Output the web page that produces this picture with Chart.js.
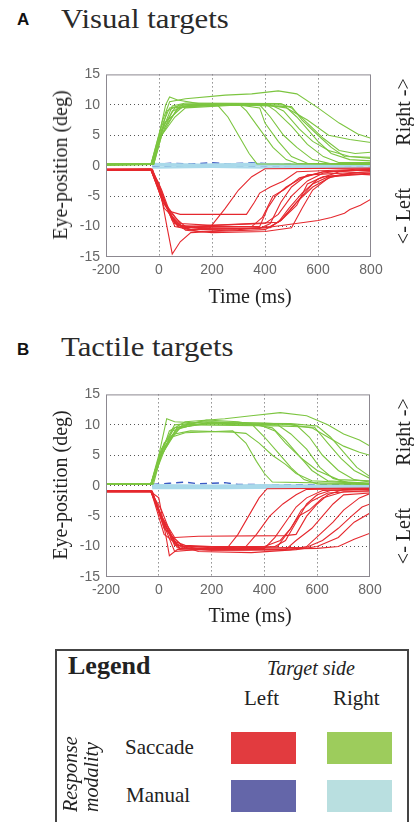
<!DOCTYPE html>
<html>
<head>
<meta charset="utf-8">
<script src="https://cdn.jsdelivr.net/npm/chart.js@4.4.0/dist/chart.umd.min.js"></script>
<style>
body{margin:0;width:414px;height:822px;overflow:hidden;background:#fff;position:relative;font-family:"Liberation Serif",serif;color:#222}
.t{position:absolute;white-space:nowrap;line-height:1}
.panel{position:absolute;left:17px;font:bold 17px "Liberation Sans",sans-serif;line-height:1;color:#111}
.head{position:absolute;left:61px;font-size:28px;line-height:1;white-space:nowrap;transform:scaleX(1.1);transform-origin:0 0;color:#2a2a2a}
.rot{position:absolute;white-space:nowrap;line-height:1;font-size:20px;transform:translate(-50%,-50%) rotate(-90deg)}
.ctr{position:absolute;white-space:nowrap;line-height:1;font-size:20px;transform:translate(-50%,-50%)}
.up{position:absolute;white-space:nowrap;line-height:1;font-size:20px;font-style:italic;transform-origin:0 0;transform:rotate(-90deg)}
.sw{position:absolute;width:65px;height:32px}
canvas{position:absolute;left:0}
#legend{position:absolute;left:55px;top:649px;width:354px;height:200px;border:2px solid #444;box-sizing:border-box}
</style>
</head>
<body>

<div class="panel" style="top:11px">A</div>
<div class="head" style="top:5px">Visual targets</div>
<canvas id="chartA" width="414" height="250" style="top:60px"></canvas>
<div class="rot" style="left:60px;top:165px">Eye-position (deg)</div>
<div class="ctr" style="left:250px;top:296px">Time (ms)</div>
<div class="rot" style="left:403px;top:112px">Right -&gt;</div>
<div class="rot" style="left:403px;top:216px">&lt;- Left</div>

<div class="panel" style="top:341px">B</div>
<div class="head" style="top:333px">Tactile targets</div>
<canvas id="chartB" width="414" height="250" style="top:380px"></canvas>
<div class="rot" style="left:60px;top:485px">Eye-position (deg)</div>
<div class="ctr" style="left:250px;top:615px">Time (ms)</div>
<div class="rot" style="left:403px;top:432px">Right -&gt;</div>
<div class="rot" style="left:403px;top:536px">&lt;- Left</div>

<div id="legend"></div>
<div class="t" style="left:68px;top:653px;font-size:26px;font-weight:bold">Legend</div>
<div class="t" style="left:267px;top:658px;font-size:20px;font-style:italic">Target side</div>
<div class="t" style="left:244px;top:688px;font-size:21px">Left</div>
<div class="t" style="left:333px;top:688px;font-size:21px">Right</div>
<div class="t" style="left:125px;top:737px;font-size:21px">Saccade</div>
<div class="t" style="left:126px;top:785px;font-size:21px">Manual</div>
<div class="up" style="left:60px;top:812px">Response</div>
<div class="up" style="left:81px;top:812px">modality</div>
<div class="sw" style="left:231px;top:732px;background:#e23b3f"></div>
<div class="sw" style="left:327px;top:732px;background:#9dcc5c"></div>
<div class="sw" style="left:231px;top:780px;background:#6466a9"></div>
<div class="sw" style="left:327px;top:780px;background:#b9dfe0"></div>

<script>
// eye traces, each point is [time ms, position deg]
var visualSaccadeRight = [
    [[-200,0.3],[-30,0.3],[-10,2],[10,7],[40,10.5],[100,11],[250,11.6],[350,11.8],[450,12.3],[520,11.8],[600,9.5],[680,7],[750,5.2],[800,4.5]],
    [[-200,0.2],[-25,0.2],[0,4],[30,9],[80,10],[200,10.2],[400,10],[480,9.5],[560,7.5],[640,5],[720,4.3],[800,3.8]],
    [[-200,0.1],[-30,0.2],[0,5],[25,10],[40,11.3],[70,10.8],[150,10.2],[220,10],[260,8],[300,5],[340,2],[370,0.3],[800,0.2]],
    [[-200,0.2],[-30,0.3],[5,6],[40,9.5],[100,10],[300,10.2],[330,9],[380,6],[430,3],[480,1],[520,0.4],[800,0.3]],
    [[-200,0.1],[-20,0.3],[10,6],[60,9.5],[150,10],[380,10],[420,8],[470,5],[520,3],[580,1],[650,0.3],[800,0.2]],
    [[-200,0.3],[-30,0.3],[0,4],[50,9],[120,10],[400,10.2],[440,9],[500,6.5],[560,3.5],[620,1.5],[680,0.5],[800,0.5]],
    [[-200,0.2],[-20,0.3],[10,5],[70,9.5],[200,10],[420,10],[470,9],[530,6],[580,4],[640,2.5],[720,1.5],[800,1.2]],
    [[-200,0.2],[-30,0.2],[5,5],[50,9.8],[100,10.3],[460,10.2],[500,9.5],[560,7],[620,4.5],[680,2.5],[740,2],[800,2.2]],
    [[-200,0.1],[-25,0.2],[15,6],[80,9.8],[250,10],[470,10],[520,8],[560,6],[600,4],[650,2],[720,1],[800,0.8]],
    [[-200,0.3],[-30,0.3],[20,7],[90,9.7],[300,10],[500,9.7],[540,7.5],[600,5],[650,3],[700,1.5],[800,1.4]],
    [[-200,0.2],[-20,0.2],[10,5],[60,8],[100,9.5],[300,10],[380,9.5],[400,7],[450,4],[500,1.5],[560,0.4],[800,0.3]]
];
var visualSaccadeLeft = [
    [[-200,-0.7],[-30,-0.6],[0,-3],[30,-10],[50,-14.5],[80,-12.5],[120,-11],[200,-10.8],[400,-10.5],[460,-9],[520,-6],[580,-3.5],[650,-1.8],[800,-1.3]],
    [[-200,-0.6],[-30,-0.5],[10,-5],[60,-9.5],[100,-10],[190,-10.3],[250,-7],[300,-4],[350,-1.8],[400,-0.5],[800,-0.4]],
    [[-200,-0.8],[-25,-0.7],[10,-4],[40,-7.5],[80,-8],[330,-8],[360,-6],[380,-4.5],[420,-3.5],[470,-2.5],[520,-1],[800,-0.5]],
    [[-200,-0.7],[-30,-0.7],[15,-6],[70,-9.8],[150,-10],[380,-10],[410,-7],[440,-5],[480,-3.5],[540,-2],[620,-1],[800,-0.7]],
    [[-200,-0.6],[-25,-0.6],[20,-6],[80,-9.5],[200,-9.8],[400,-9.5],[450,-8],[500,-5],[560,-2.5],[620,-1.2],[700,-0.8],[800,-0.8]],
    [[-200,-0.8],[-30,-0.8],[10,-5],[60,-9.5],[120,-10.5],[420,-10.2],[470,-8.5],[520,-6],[580,-3],[640,-1.8],[720,-1.3],[800,-1.5]],
    [[-200,-0.6],[-30,-0.6],[5,-4],[50,-9],[100,-10.2],[350,-10],[390,-8.5],[430,-5],[470,-4],[530,-2],[620,-1],[800,-0.6]],
    [[-200,-0.7],[-30,-0.7],[10,-5],[70,-10],[150,-10.3],[400,-10.2],[600,-9],[650,-8.5],[700,-7.8],[720,-7.2],[760,-6.5],[800,-5.5]],
    [[-200,-0.6],[-25,-0.6],[20,-7],[100,-10.6],[200,-11],[400,-10.8],[500,-10.2],[540,-7],[580,-4],[640,-2],[720,-1.2],[800,-1]],
    [[-200,-0.7],[-30,-0.7],[15,-6],[60,-8.5],[100,-10],[300,-9.6],[450,-9.3],[490,-7],[540,-4.5],[600,-2.2],[680,-1],[800,-0.6]],
    [[-200,-0.8],[-25,-0.8],[10,-5],[60,-10],[120,-10.5],[380,-10.3],[420,-9.5],[460,-6],[500,-3.5],[560,-1.5],[800,-1]],
    [[-200,-0.7],[-30,-0.7],[0,-3],[40,-8],[90,-10.3],[150,-10.8],[300,-10.5],[420,-10],[460,-9],[520,-6.5],[560,-3],[620,-1.8],[800,-1.2]]
];
var visualManualRight = [
    [[-25,0.1],[100,0.0],[300,0.1],[500,0.0],[800,0.1]],
    [[-25,-0.3],[200,-0.2],[400,-0.3],[600,-0.2],[800,-0.3]],
    [[-25,0.3],[150,0.2],[350,0.3],[550,0.2],[800,0.2]]
];
var visualManualLeft = [
    [[-25,0.2],[50,0.4],[120,0.3],[200,0.5],[260,0.3],[350,0.5],[420,0.3],[800,0.2]],
    [[-25,-0.1],[100,-0.2],[250,-0.1],[400,-0.2],[600,-0.1],[800,0]]
];

var tactileSaccadeRight = [
    [[-200,0.3],[-30,0.3],[0,4],[40,9],[100,10.5],[250,11],[350,11.5],[460,12],[560,11.5],[640,10],[700,8.5],[760,7.5],[800,6.5]],
    [[-200,0.2],[-30,0.3],[0,5],[30,11],[60,10.5],[150,10.3],[300,10],[500,10],[580,9.5],[640,8],[700,6.5],[760,5.5],[800,5]],
    [[-200,0.3],[-25,0.3],[10,5],[50,8],[100,8.7],[280,9],[330,7],[370,4],[400,2],[430,0.6],[800,0.3]],
    [[-200,0.2],[-30,0.2],[10,6],[60,9.5],[150,10.5],[350,10.2],[400,8],[450,5.5],[500,3],[550,1],[600,0.3],[800,0.2]],
    [[-200,0.3],[-30,0.3],[5,5],[70,9.5],[180,10.8],[300,10.5],[430,9.5],[480,7.5],[530,5],[580,2.5],[640,0.8],[800,0.4]],
    [[-200,0.2],[-20,0.3],[15,6],[90,10],[250,10.2],[450,10],[500,8.5],[560,6],[610,3],[660,1.2],[720,0.5],[800,0.4]],
    [[-200,0.3],[-25,0.3],[20,7],[80,9.5],[200,10.5],[400,10.3],[520,10],[570,8],[620,5],[680,2.5],[740,1],[800,0.6]],
    [[-200,0.2],[-30,0.2],[10,5],[60,8.5],[120,9],[280,8.8],[330,8.6],[380,7],[430,5],[480,3.5],[520,2],[580,0.8],[800,0.3]],
    [[-200,0.2],[-25,0.3],[15,6],[70,9.5],[200,10.3],[500,10.2],[600,9.8],[650,8],[700,5.5],[750,3],[800,1.5]],
    [[-200,0.3],[-30,0.3],[10,6],[60,10],[180,10.5],[380,10],[440,9],[480,7],[540,4.5],[600,2.5],[680,1],[800,0.8]],
    [[-200,0.2],[-30,0.2],[5,4],[50,9],[130,10],[450,9.8],[590,9.6],[640,7],[690,4.5],[740,2.5],[800,1.2]]
];
var tactileSaccadeLeft = [
    [[-200,-1],[-30,-1],[0,-2],[30,-9],[40,-11.5],[70,-10.5],[150,-10],[260,-10.2],[300,-8],[340,-5],[380,-2],[410,-0.5],[800,-0.4]],
    [[-200,-0.9],[-25,-0.9],[10,-5],[60,-8.5],[150,-8.3],[480,-8.2],[520,-8],[560,-5],[600,-3],[640,-1.5],[700,-0.6],[800,-0.5]],
    [[-200,-0.8],[-30,-0.8],[10,-5],[60,-9.8],[200,-10.2],[330,-10],[370,-8],[420,-5],[470,-3],[520,-1.5],[560,-0.6],[800,-0.5]],
    [[-200,-1],[-30,-1],[15,-6],[80,-10.3],[200,-10.5],[400,-10.3],[440,-8.5],[480,-6],[520,-3.5],[560,-2],[620,-0.8],[800,-0.6]],
    [[-200,-0.9],[-25,-0.9],[20,-7],[90,-10],[300,-10],[400,-10],[460,-9],[500,-7],[540,-4],[580,-2.5],[640,-1.2],[800,-0.8]],
    [[-200,-1],[-30,-1],[10,-5],[70,-10.2],[200,-10.6],[480,-10.5],[520,-9],[580,-7],[620,-5],[660,-3],[700,-1.5],[800,-1.2]],
    [[-200,-0.8],[-30,-0.8],[15,-6],[80,-10.5],[250,-10.6],[500,-10.5],[560,-10],[610,-8],[660,-6],[700,-4],[760,-2],[800,-1.3]],
    [[-200,-0.9],[-25,-0.9],[20,-7],[100,-10.3],[300,-10.3],[560,-10.1],[620,-9],[680,-7],[730,-5],[770,-3.5],[800,-3]],
    [[-200,-1],[-30,-1],[10,-4],[60,-9.5],[150,-10.8],[350,-11],[520,-10.5],[600,-10],[680,-8.5],[740,-6],[800,-4.5]],
    [[-200,-0.8],[-30,-0.8],[20,-8],[90,-10.2],[300,-10.5],[600,-10.3],[680,-10],[740,-8.8],[800,-7.8]],
    [[-200,-0.9],[-30,-0.9],[10,-5],[50,-9],[100,-9.8],[300,-10.2],[440,-10],[480,-9],[520,-6],[560,-3],[600,-1.5],[650,-0.8],[800,-0.6]],
    [[-200,-1],[-25,-1],[15,-6],[60,-10.8],[200,-10.3],[400,-10.1],[450,-10],[500,-7],[530,-5],[570,-4],[620,-2],[700,-1],[800,-1]]
];
var tactileManualRight = [
    [[-25,-0.2],[150,-0.1],[300,-0.2],[500,-0.1],[800,-0.2]],
    [[-25,0.1],[200,0.0],[400,0.1],[600,0.0],[800,0.0]],
    [[-25,-0.4],[250,-0.4],[500,-0.3],[800,-0.4]]
];
var tactileManualLeft = [
    [[-25,0.2],[40,0.4],[100,0.6],[150,0.3],[250,0.5],[300,0.2],[800,0.1]],
    [[-25,-0.1],[150,-0.1],[400,0.1],[600,0],[700,0.2],[800,-0.1]]
];

var saccadeRightColor = '#7cc540';
var saccadeLeftColor = '#e5282e';
var manualRightColor = '#a9d9ea';
var manualLeftColor = '#3a5ac4';

function traces(list, color, width, dash, order){
    var out = []
    for(i = 0; i < list.length; i++){
        out.push({
            data: list[i].map(function(p){ return {x: p[0], y: p[1]} }),
            borderColor: color,
            borderWidth: width,
            borderDash: dash,
            pointRadius: 0,
            tension: 0,
            order: order
        })
    }
    return out
}

//draws the box round the plot area
var frame = {
    id: 'frame',
    afterDraw: function(chart){
        var a = chart.chartArea, c = chart.ctx
        c.save()
        c.strokeStyle = '#8c8890'
        c.lineWidth = 1
        c.strokeRect(a.left + 0.5, a.top + 0.5, a.right - a.left - 1, a.bottom - a.top - 1)
        c.restore()
    }
}

function makeChart(id, right, left, manRight, manLeft, pad){
    var sets = [].concat(
        traces(right, saccadeRightColor, 1.1, [], 1),
        traces(left, saccadeLeftColor, 1.1, [], 1),
        traces(manRight, manualRightColor, 2.2, [], 2),
        traces(manLeft, manualLeftColor, 1.4, [7, 5], 2)
    )
    var gridColor = function(ctx){
        var v = ctx.tick ? ctx.tick.value : null
        return (v == -200 || v == 800 || v == 15 || v == -15) ? 'rgba(0,0,0,0)' : '#555'
    }
    var tickFont = {family: 'Liberation Sans', size: 14}
    return new Chart(document.getElementById(id), {
        type: 'line',
        data: {datasets: sets},
        options: {
            responsive: false,
            animation: false,
            layout: {padding: pad},
            plugins: {legend: {display: false}, tooltip: {enabled: false}},
            scales: {
                x: {
                    type: 'linear', min: -200, max: 800,
                    ticks: {stepSize: 200, padding: 5, color: '#666', font: tickFont},
                    grid: {color: gridColor, drawTicks: false, lineWidth: 1},
                    border: {display: false, dash: [1, 3]},
                    afterFit: function(s){ s.height = 53 }
                },
                y: {
                    type: 'linear', min: -15, max: 15,
                    ticks: {stepSize: 5, padding: 6, color: '#666', font: tickFont},
                    grid: {color: gridColor, drawTicks: false, lineWidth: 1},
                    border: {display: false, dash: [1, 3]},
                    afterFit: function(s){ s.width = 106 }
                }
            }
        },
        plugins: [frame]
    })
}

makeChart('chartA', visualSaccadeRight, visualSaccadeLeft, visualManualRight, visualManualLeft, {left: 0, right: 43, top: 12, bottom: 0})
makeChart('chartB', tactileSaccadeRight, tactileSaccadeLeft, tactileManualRight, tactileManualLeft, {left: 0, right: 44, top: 11, bottom: 0})
</script>
</body>
</html>
